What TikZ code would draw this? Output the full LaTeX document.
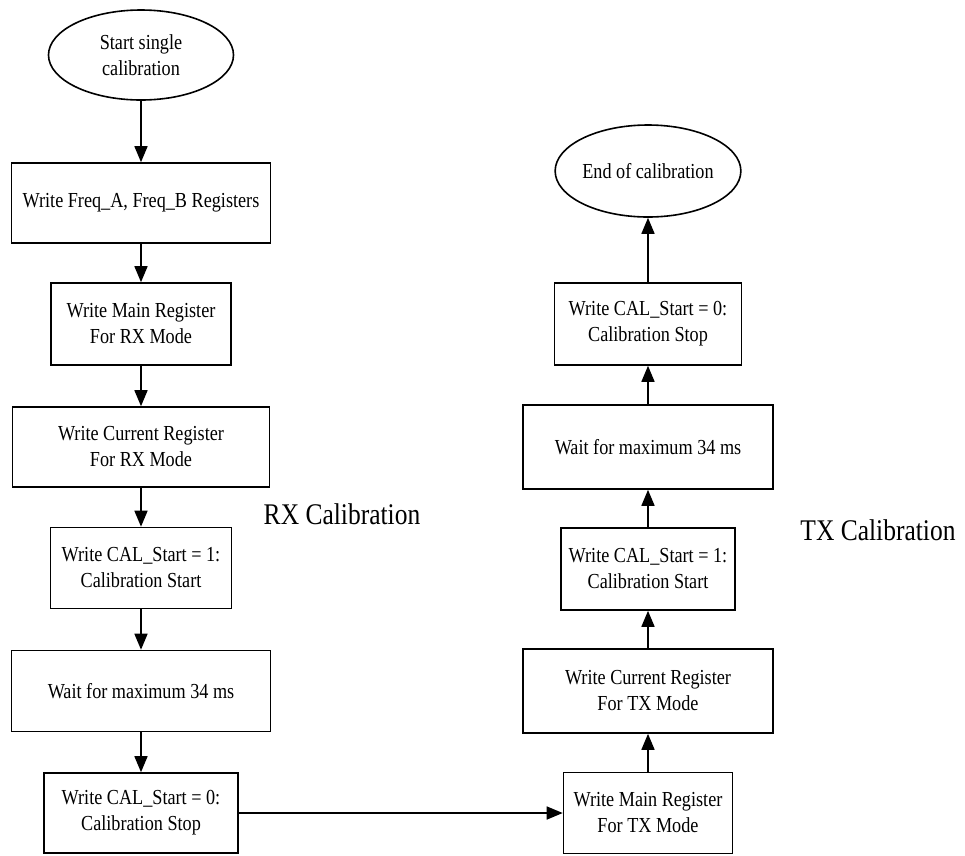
\documentclass[tikz,border=0pt]{standalone}
\usepackage{fontspec}
\setmainfont{Liberation Serif}[FakeStretch=0.85]
\usetikzlibrary{shapes,shapes.geometric,arrows.meta,calc}

\begin{document}
\begin{tikzpicture}
        [x=1pt,y=-1pt,line width=1.6pt,
        every node/.style={font=\fontsize{21.4}{26}\selectfont,align=center,inner sep=0pt},
        stepbox/.style={shape=rectangle,draw,minimum height=81pt},
        termbox/.style={shape=ellipse,draw},
        calname/.style={font=\fontsize{30}{34}\selectfont},
        flow/.style={-{Triangle[length=16pt,width=13pt]}}]
        \useasboundingbox (0,0) rectangle (965,855);
        %% RX side
        \node[termbox,minimum width=185pt,minimum height=90pt] (startCal) at (141,55) {Start single\\calibration};
        \node[stepbox,minimum width=259pt,minimum height=80pt] (freqAB) at (141,203) {Write Freq\_A, Freq\_B Registers};
        \node[stepbox,minimum width=180pt,minimum height=82pt] (mainRX) at (141,324) {Write Main Register\\For RX Mode};
        \node[stepbox,minimum width=257pt,minimum height=80pt] (curRX) at (141,447) {Write Current Register\\For RX Mode};
        \node[stepbox,minimum width=181pt] (calOnRX) at (141,568) {Write CAL\_Start = 1:\\Calibration Start};
        \node[stepbox,minimum width=259pt] (waitRX) at (141,691) {Wait for maximum 34 ms};
        \node[stepbox,minimum width=194pt,minimum height=80pt] (calOffRX) at (141,813) {Write CAL\_Start = 0:\\Calibration Stop};
        %% TX side
        \node[stepbox,minimum width=169pt] (mainTX) at (648,813) {Write Main Register\\For TX Mode};
        \node[stepbox,minimum width=250pt,minimum height=84pt] (curTX) at (648,691) {Write Current Register\\For TX Mode};
        \node[stepbox,minimum width=174pt,minimum height=82pt] (calOnTX) at (648,569) {Write CAL\_Start = 1:\\Calibration Start};
        \node[stepbox,minimum width=250pt,minimum height=84pt] (waitTX) at (648,447) {Wait for maximum 34 ms};
        \node[stepbox,minimum width=187pt,minimum height=82pt] (calOffTX) at (648,324) {Write CAL\_Start = 0:\\Calibration Stop};
        \node[termbox,minimum width=175pt,minimum height=92pt] (endCal) at (648,171) {End of calibration};
        %%
        \node[calname] (rxName) at (342,514) {RX Calibration};
        \node[calname] (txName) at (878,530) {TX Calibration};
        \path
        \foreach \startNode/\endNode in {startCal/freqAB, freqAB/mainRX, mainRX/curRX,
          curRX/calOnRX, calOnRX/waitRX, waitRX/calOffRX, calOffRX/mainTX,
          mainTX/curTX, curTX/calOnTX, calOnTX/waitTX, waitTX/calOffTX, calOffTX/endCal}
        {
          (\startNode) edge[flow] (\endNode)
        };
        \end{tikzpicture}
\end{document}
